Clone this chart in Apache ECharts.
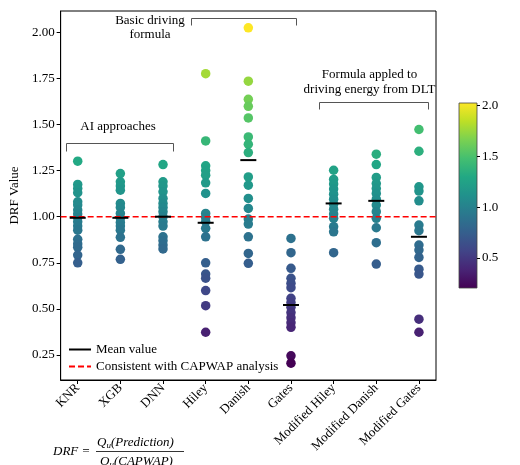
<!DOCTYPE html>
<html>
<head>
<meta charset="utf-8">
<script src="https://cdn.jsdelivr.net/npm/echarts@6/dist/echarts.min.js"></script>
<style>html,body{margin:0;padding:0;background:#fff}#c{width:520px;height:465px}</style>
</head>
<body>
<div id="c"></div>
<script>
const categories = ['KNR','XGB','DNN','Hiley','Danish','Gates','Modified Hiley','Modified Danish','Modified Gates'];
const knr = [1.301,1.175,1.153,1.130,1.081,1.063,1.036,1.014,0.994,0.972,0.949,0.927,0.877,0.852,0.834,0.792,0.750];
const xgb = [1.234,1.189,1.167,1.144,1.072,1.050,1.018,0.991,0.969,0.949,0.927,0.888,0.823,0.769];
const dnn = [1.283,1.189,1.166,1.135,1.099,1.072,1.050,1.027,1.000,0.972,0.949,0.891,0.870,0.846,0.825];
const hiley = [1.776,1.411,1.276,1.250,1.225,1.184,1.126,1.018,0.996,0.973,0.937,0.891,0.750,0.689,0.666,0.599,0.517,0.373];
const danish = [2.025,1.735,1.637,1.599,1.536,1.433,1.393,1.348,1.216,1.171,1.099,1.045,0.987,0.960,0.891,0.801,0.747];
const gates = [0.882,0.805,0.720,0.666,0.639,0.615,0.557,0.534,0.509,0.480,0.452,0.425,0.400,0.245,0.205];
const modHiley = [1.252,1.202,1.177,1.150,1.122,1.095,1.068,1.041,1.014,0.991,0.946,0.918,0.805];
const modDanish = [1.339,1.283,1.213,1.180,1.153,1.126,1.095,1.063,1.027,0.991,0.940,0.859,0.743];
const modGates = [1.473,1.355,1.162,1.139,1.086,0.955,0.924,0.846,0.819,0.779,0.715,0.689,0.444,0.373];
const groups = [knr, xgb, dnn, hiley, danish, gates, modHiley, modDanish, modGates];
const means = [0.994, 0.994, 1.000, 0.967, 1.307, 0.521, 1.072, 1.086, 0.891];
const refValue = 1.0;
const yTicks = [0.25, 0.50, 0.75, 1.00, 1.25, 1.50, 1.75, 2.00];
const cbTicks = [0.5, 1.0, 1.5, 2.0];
const colorMin = 0.205, colorMax = 2.025;
const xMin = -0.4, xMax = 8.4, yMin = 0.114, yMax = 2.116;

const viridis = ['#440154','#482475','#414487','#355f8d','#2a788e','#21918c','#22a884','#44bf70','#7ad151','#bddf26','#fde725'];
const FONT = 'Liberation Serif';

const points = [];
groups.forEach((g, i) => g.forEach(v => points.push([i, v])));
const meanData = means.map((m, i) => [i, m]);

const chart = echarts.init(document.getElementById('c'), null, {renderer: 'canvas'});
const gradStops = viridis.map((c, k) => ({offset: k / (viridis.length - 1), color: c}));

chart.setOption({
  animation: false,
  backgroundColor: '#fff',
  textStyle: {fontFamily: FONT},
  grid: [
    {left: 60, right: 84, top: 11, bottom: 85, show: true, borderColor: '#000', borderWidth: 1, containLabel: false},
    {left: 459, width: 18, top: 103, height: 185, show: true, borderColor: '#444', borderWidth: 0.8,
     backgroundColor: new echarts.graphic.LinearGradient(0, 1, 0, 0, gradStops)}
  ],
  xAxis: [
    {type: 'value', gridIndex: 0, min: xMin, max: xMax,
     splitLine: {show: false},
     axisLine: {show: true, onZero: false, lineStyle: {color: '#000', width: 1}},
     axisTick: {show: true, length: 4, customValues: categories.map((c, i) => i), lineStyle: {color: '#000'}},
     axisLabel: {show: true, customValues: categories.map((c, i) => i), rotate: 45, margin: 6,
       fontFamily: FONT, fontSize: 13, color: '#000',
       formatter: v => categories[Math.round(v)] || ''}},
    {type: 'value', gridIndex: 1, min: 0, max: 1, show: false}
  ],
  yAxis: [
    {type: 'value', gridIndex: 0, min: yMin, max: yMax,
     name: 'DRF Value', nameLocation: 'middle', nameGap: 33, nameRotate: 90,
     nameTextStyle: {fontFamily: FONT, fontSize: 13, color: '#000'},
     splitLine: {show: false},
     axisLine: {show: true, onZero: false, lineStyle: {color: '#000', width: 1}},
     axisTick: {show: true, length: 4, customValues: yTicks, lineStyle: {color: '#000'}},
     axisLabel: {customValues: yTicks, fontFamily: FONT, fontSize: 13, color: '#000', margin: 6,
       formatter: v => v.toFixed(2)}},
    {type: 'value', gridIndex: 1, min: colorMin, max: colorMax, position: 'right',
     splitLine: {show: false},
     axisLine: {show: false, onZero: false},
     axisTick: {show: true, length: 3, customValues: cbTicks, lineStyle: {color: '#000'}},
     axisLabel: {customValues: cbTicks, fontFamily: FONT, fontSize: 13, color: '#000', margin: 5,
       formatter: v => v.toFixed(1)}}
  ],
  visualMap: [{
    show: false, type: 'continuous', seriesIndex: 0, dimension: 1,
    min: colorMin, max: colorMax, inRange: {color: viridis}
  }],
  legend: {
    orient: 'vertical', left: 63, top: 338, itemGap: 4, itemWidth: 22, itemHeight: 14,
    itemStyle: {opacity: 0},
    textStyle: {fontFamily: FONT, fontSize: 13, color: '#000'},
    data: ['Mean value', 'Consistent with CAPWAP analysis']
  },
  series: [
    {type: 'scatter', name: 'points', xAxisIndex: 0, yAxisIndex: 0, symbol: 'circle', symbolSize: 9.5,
     itemStyle: {opacity: 1}, data: points, z: 2},
    {type: 'line', name: 'Consistent with CAPWAP analysis', xAxisIndex: 0, yAxisIndex: 0,
     data: [[xMin, refValue], [xMax, refValue]], symbol: 'none',
     lineStyle: {color: '#ff0000', width: 1.5, type: [6, 3]}, itemStyle: {color: '#ff0000'}, z: 3},
    {type: 'scatter', name: 'means', xAxisIndex: 0, yAxisIndex: 0, symbol: 'rect', symbolSize: [16, 2],
     itemStyle: {color: '#000', opacity: 1}, data: meanData, z: 4},
    {type: 'line', name: 'Mean value', xAxisIndex: 0, yAxisIndex: 0, data: [], symbol: 'none',
     lineStyle: {color: '#000', width: 1.5}, itemStyle: {color: '#000'}}
  ]
});

// annotations (group labels and brackets)
const bracketStyle = {stroke: '#555', lineWidth: 1, fill: null};
function bracket(x1, x2, y, drop) {
  return {type: 'polyline', shape: {points: [[x1, y + drop], [x1, y], [x2, y], [x2, y + drop]]}, style: bracketStyle, z: 10};
}
function label(text, x, y) {
  return {type: 'text', x: x, y: y, style: {text: text, fontFamily: FONT, fontSize: 13, fill: '#000',
    align: 'center', verticalAlign: 'middle'}, z: 10};
}
chart.setOption({
  graphic: [
    label('AI approaches', 118, 127),
    bracket(66.5, 173.5, 143.5, 8),
    label('Basic driving', 150, 21),
    label('formula', 150, 35),
    bracket(191.5, 296.5, 18.5, 7),
    label('Formula appled to', 369.5, 75),
    label('driving energy from DLT', 369.5, 90),
    bracket(319.5, 428.5, 102.5, 7),
    {type: 'text', x: 53, y: 452, style: {text: 'DRF =', fontFamily: FONT, fontStyle: 'italic', fontSize: 13, fill: '#000', verticalAlign: 'middle'}},
    {type: 'text', x: 97, y: 443, style: {
      text: '{q|Q}{s|u}{q|(Prediction)}', fontFamily: FONT, verticalAlign: 'middle',
      rich: {q: {fontFamily: FONT, fontStyle: 'italic', fontSize: 13, fill: '#000'},
             s: {fontFamily: FONT, fontStyle: 'italic', fontSize: 9, fill: '#000', padding: [6, 0, 0, 0]}}}},
    {type: 'line', shape: {x1: 96, y1: 451.5, x2: 184, y2: 451.5}, style: {stroke: '#000', lineWidth: 0.8}},
    {type: 'text', x: 100, y: 462, style: {
      text: '{q|Q}{s|u}{q|(CAPWAP)}', fontFamily: FONT, verticalAlign: 'middle',
      rich: {q: {fontFamily: FONT, fontStyle: 'italic', fontSize: 13, fill: '#000'},
             s: {fontFamily: FONT, fontStyle: 'italic', fontSize: 9, fill: '#000', padding: [6, 0, 0, 0]}}}}
  ]
});
</script>
</body>
</html>
